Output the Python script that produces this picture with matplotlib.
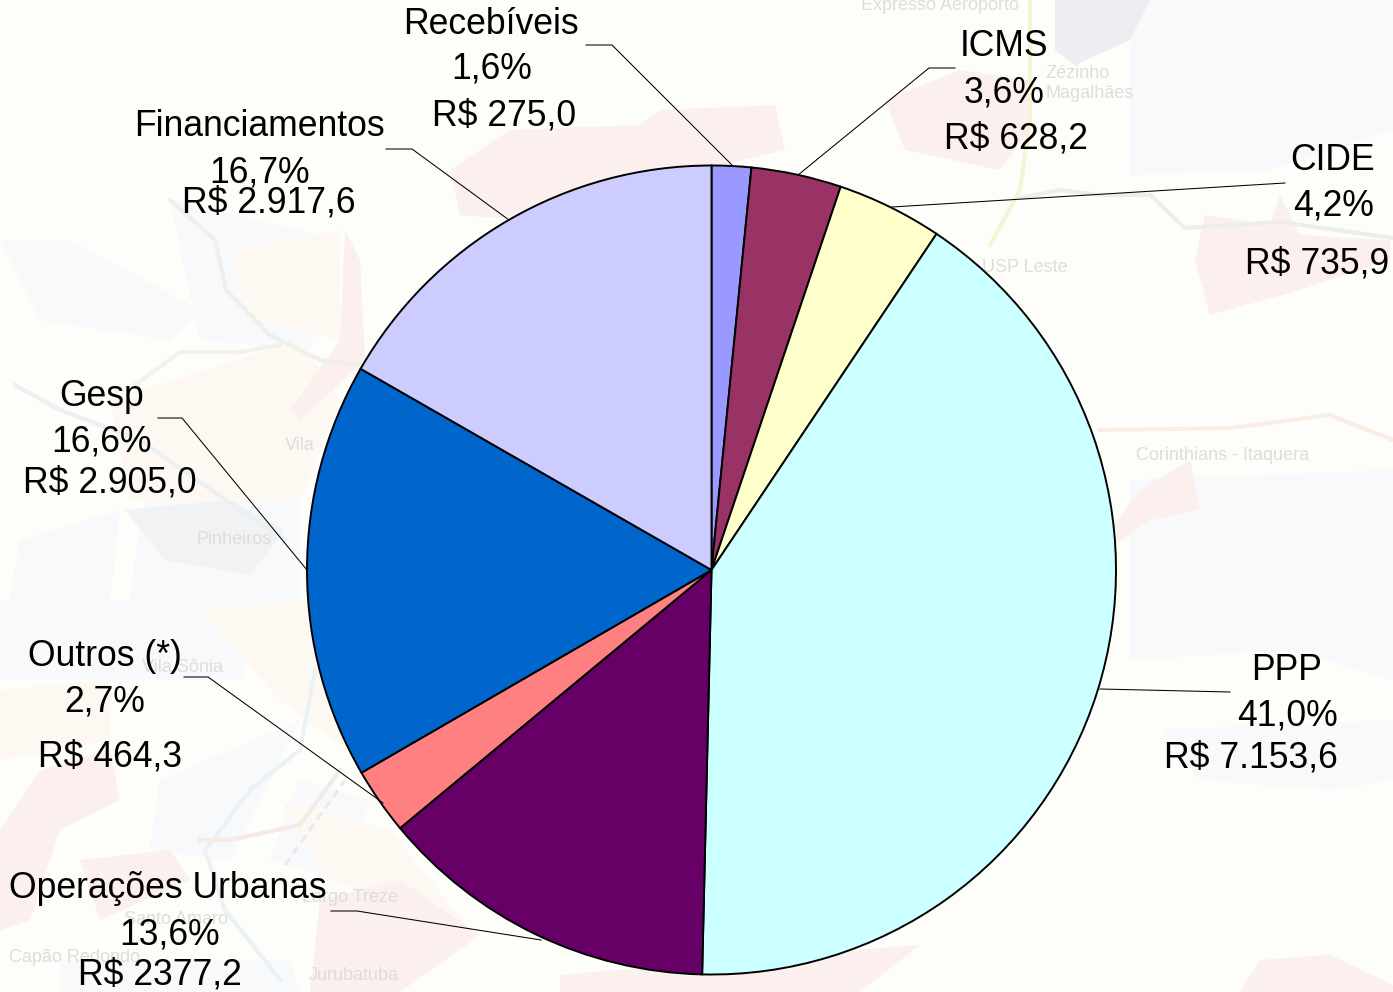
import matplotlib
matplotlib.use("Agg")
import matplotlib.pyplot as plt
from matplotlib.patches import Polygon

plt.rcParams['font.family'] = ['Liberation Sans', 'DejaVu Sans']

labels = ["Recebíveis", "ICMS", "CIDE", "PPP", "Operações Urbanas", "Outros (*)", "Gesp", "Financiamentos"]
values = [275.0, 628.2, 735.9, 7153.6, 2377.2, 464.3, 2905.0, 2917.6]
percents = ["1,6%", "3,6%", "4,2%", "41,0%", "13,6%", "2,7%", "16,6%", "16,7%"]
money = ["R$ 275,0", "R$ 628,2", "R$ 735,9", "R$ 7.153,6", "R$ 2377,2", "R$ 464,3", "R$ 2.905,0", "R$ 2.917,6"]
colors = ["#9999ff", "#993366", "#ffffcc", "#ccffff", "#660066", "#ff8080", "#0066cc", "#ccccff"]

W, H = 1393, 992
fig = plt.figure(figsize=(W / 100, H / 100), dpi=100, facecolor="#fdfdf9")
ax = fig.add_axes([0, 0, 1, 1])


def fy(y):
    return H - y


def blob(points, color):
    ax.add_patch(Polygon([(x, fy(y)) for x, y in points], closed=True, fc=color, ec="none", zorder=0))


# washed out map behind the pie
blue = "#f8f9fb"
peach = "#fef8f3"
pink = "#fcf0ee"
grey = "#f1f2f4"

for b in [
    [(1130, 0), (1393, 0), (1393, 130), (1270, 170), (1130, 175)],
    [(1130, 480), (1393, 470), (1393, 680), (1290, 650), (1130, 660)],
    [(1160, 730), (1393, 720), (1393, 780), (1330, 790), (1200, 780)],
    [(0, 240), (70, 240), (200, 310), (170, 340), (40, 320)],
    [(170, 200), (340, 240), (310, 350), (200, 340)],
    [(180, 410), (300, 420), (300, 620), (130, 600), (140, 520)],
    [(0, 600), (270, 600), (240, 680), (130, 680), (0, 680)],
    [(160, 780), (300, 720), (230, 860), (150, 850)],
    [(300, 780), (370, 800), (340, 880), (270, 860)],
    [(20, 540), (120, 510), (110, 600), (10, 600)],
    [(60, 960), (290, 960), (300, 992), (60, 992)],
]:
    blob(b, blue)

for b in [
    [(110, 400), (300, 340), (340, 400), (300, 500), (130, 500)],
    [(230, 250), (340, 230), (340, 340), (250, 320)],
    [(200, 610), (310, 600), (360, 760), (280, 700)],
    [(0, 690), (110, 680), (110, 740), (0, 760)],
    [(280, 800), (390, 830), (470, 930), (330, 880)],
]:
    blob(b, peach)

for b in [
    [(450, 170), (510, 130), (640, 125), (660, 110), (775, 105), (785, 150), (500, 218), (460, 215)],
    [(345, 230), (360, 260), (365, 360), (300, 420), (290, 410), (340, 340)],
    [(885, 100), (960, 70), (1030, 80), (1030, 130), (1000, 170), (905, 150)],
    [(1205, 215), (1270, 225), (1280, 195), (1300, 235), (1390, 240), (1390, 260), (1300, 290), (1210, 315), (1195, 260)],
    [(1110, 530), (1140, 490), (1190, 460), (1200, 510), (1150, 520), (1115, 545)],
    [(0, 830), (40, 770), (110, 750), (120, 800), (60, 830), (30, 920), (0, 930)],
    [(80, 860), (170, 850), (190, 880), (100, 920)],
    [(320, 900), (400, 880), (480, 935), (400, 992), (310, 992)],
    [(560, 975), (800, 955), (920, 945), (860, 992), (560, 992)],
    [(1240, 992), (1260, 960), (1330, 955), (1393, 985), (1393, 992)],
]:
    blob(b, pink)

blob([(1055, 0), (1150, 0), (1130, 40), (1075, 65), (1055, 50)], "#eceef1")
blob([(125, 510), (230, 500), (285, 530), (250, 575), (165, 560)], grey)

roads = [
    ([(170, 200), (215, 240), (226, 290), (270, 335), (320, 360), (360, 365)], "#efefed"),
    ([(135, 385), (180, 352), (240, 352), (280, 345)], "#f3f1ec"),
    ([(15, 385), (60, 410), (140, 440), (240, 510), (285, 540)], "#ebf0f3"),
    ([(1030, 0), (1030, 120), (1020, 190), (990, 245)], "#f7f4d6"),
    ([(1020, 198), (1060, 190), (1100, 195), (1150, 195), (1185, 228), (1280, 222), (1393, 238)], "#ededed"),
    ([(1100, 430), (1230, 428), (1330, 415), (1393, 440)], "#f9eee4"),
    ([(315, 670), (300, 750), (250, 790), (205, 850), (225, 910), (280, 980)], "#ebf2f5"),
    ([(200, 840), (230, 840), (300, 825), (340, 770)], "#f5eae6"),
]
for path, c in roads:
    ax.plot([p[0] for p in path], [fy(p[1]) for p in path], color=c, lw=3, zorder=0.5)
ax.plot([285, 345], [fy(865), fy(780)], color="#e8e8ef", lw=2, ls=(0, (3, 2)), zorder=0.5)

map_text = [(940, 6, "Expresso Aeroporto"), (1078, 73, "Zézinho"), (1090, 94, "Magalhães"), (1025, 267, "USP Leste"),
            (1222, 455, "Corinthians - Itaquera"), (234, 539, "Pinheiros"), (300, 446, "Vila"),
            (183, 667, "Vila Sônia"), (176, 920, "Santo Amaro"), (350, 897, "Largo Treze"),
            (75, 957, "Capão Redondo"), (354, 975, "Jurubatuba")]
for x, y, s in map_text:
    ax.text(x, fy(y), s, color="#dddddd", fontsize=13, ha="center", va="center", zorder=1)

wedges, _ = ax.pie(values, colors=colors, startangle=90, counterclock=False,
                   center=(711.5, fy(570)), radius=404.5,
                   wedgeprops=dict(edgecolor="black", linewidth=1.4), frame=True)
for w in wedges:
    w.set_zorder(2)
ax.set_xlim(0, W)
ax.set_ylim(0, H)
ax.set_aspect("equal")
ax.axis("off")

leaders = [
    [(586, 45), (612, 45), (733, 166)],
    [(955, 68), (929, 68), (798, 175)],
    [(1285, 183), (892, 207)],
    [(1230, 692), (1100, 689)],
    [(331, 911), (357, 911), (541, 940)],
    [(184, 677), (208, 677), (383, 803)],
    [(158, 418), (182, 418), (307, 570)],
    [(386, 149), (412, 149), (509, 220)],
]
for path in leaders:
    ax.plot([p[0] for p in path], [fy(p[1]) for p in path], color="black", lw=0.75, zorder=3)

# x, y of each of the three lines of a label
label_pos = [
    [(491, 25), (492, 69), (504, 116)],
    [(1004, 47), (1004, 93), (1016, 139)],
    [(1333, 161), (1334, 206), (1317, 264)],
    [(1287, 671), (1287, 716), (1251, 758)],
    [(168, 889), (170, 935), (160, 975)],
    [(105, 657), (105, 702), (110, 757)],
    [(102, 397), (102, 442), (110, 483)],
    [(259, 127), (260, 173), (269, 203)],
]
for i, pos in enumerate(label_pos):
    for (x, y), s in zip(pos, (labels[i], percents[i], money[i])):
        ax.text(x, fy(y), s, fontsize=25.6, color="black", ha="center", va="center", zorder=4)

fig.savefig("out.png", dpi=100, facecolor=fig.get_facecolor())
